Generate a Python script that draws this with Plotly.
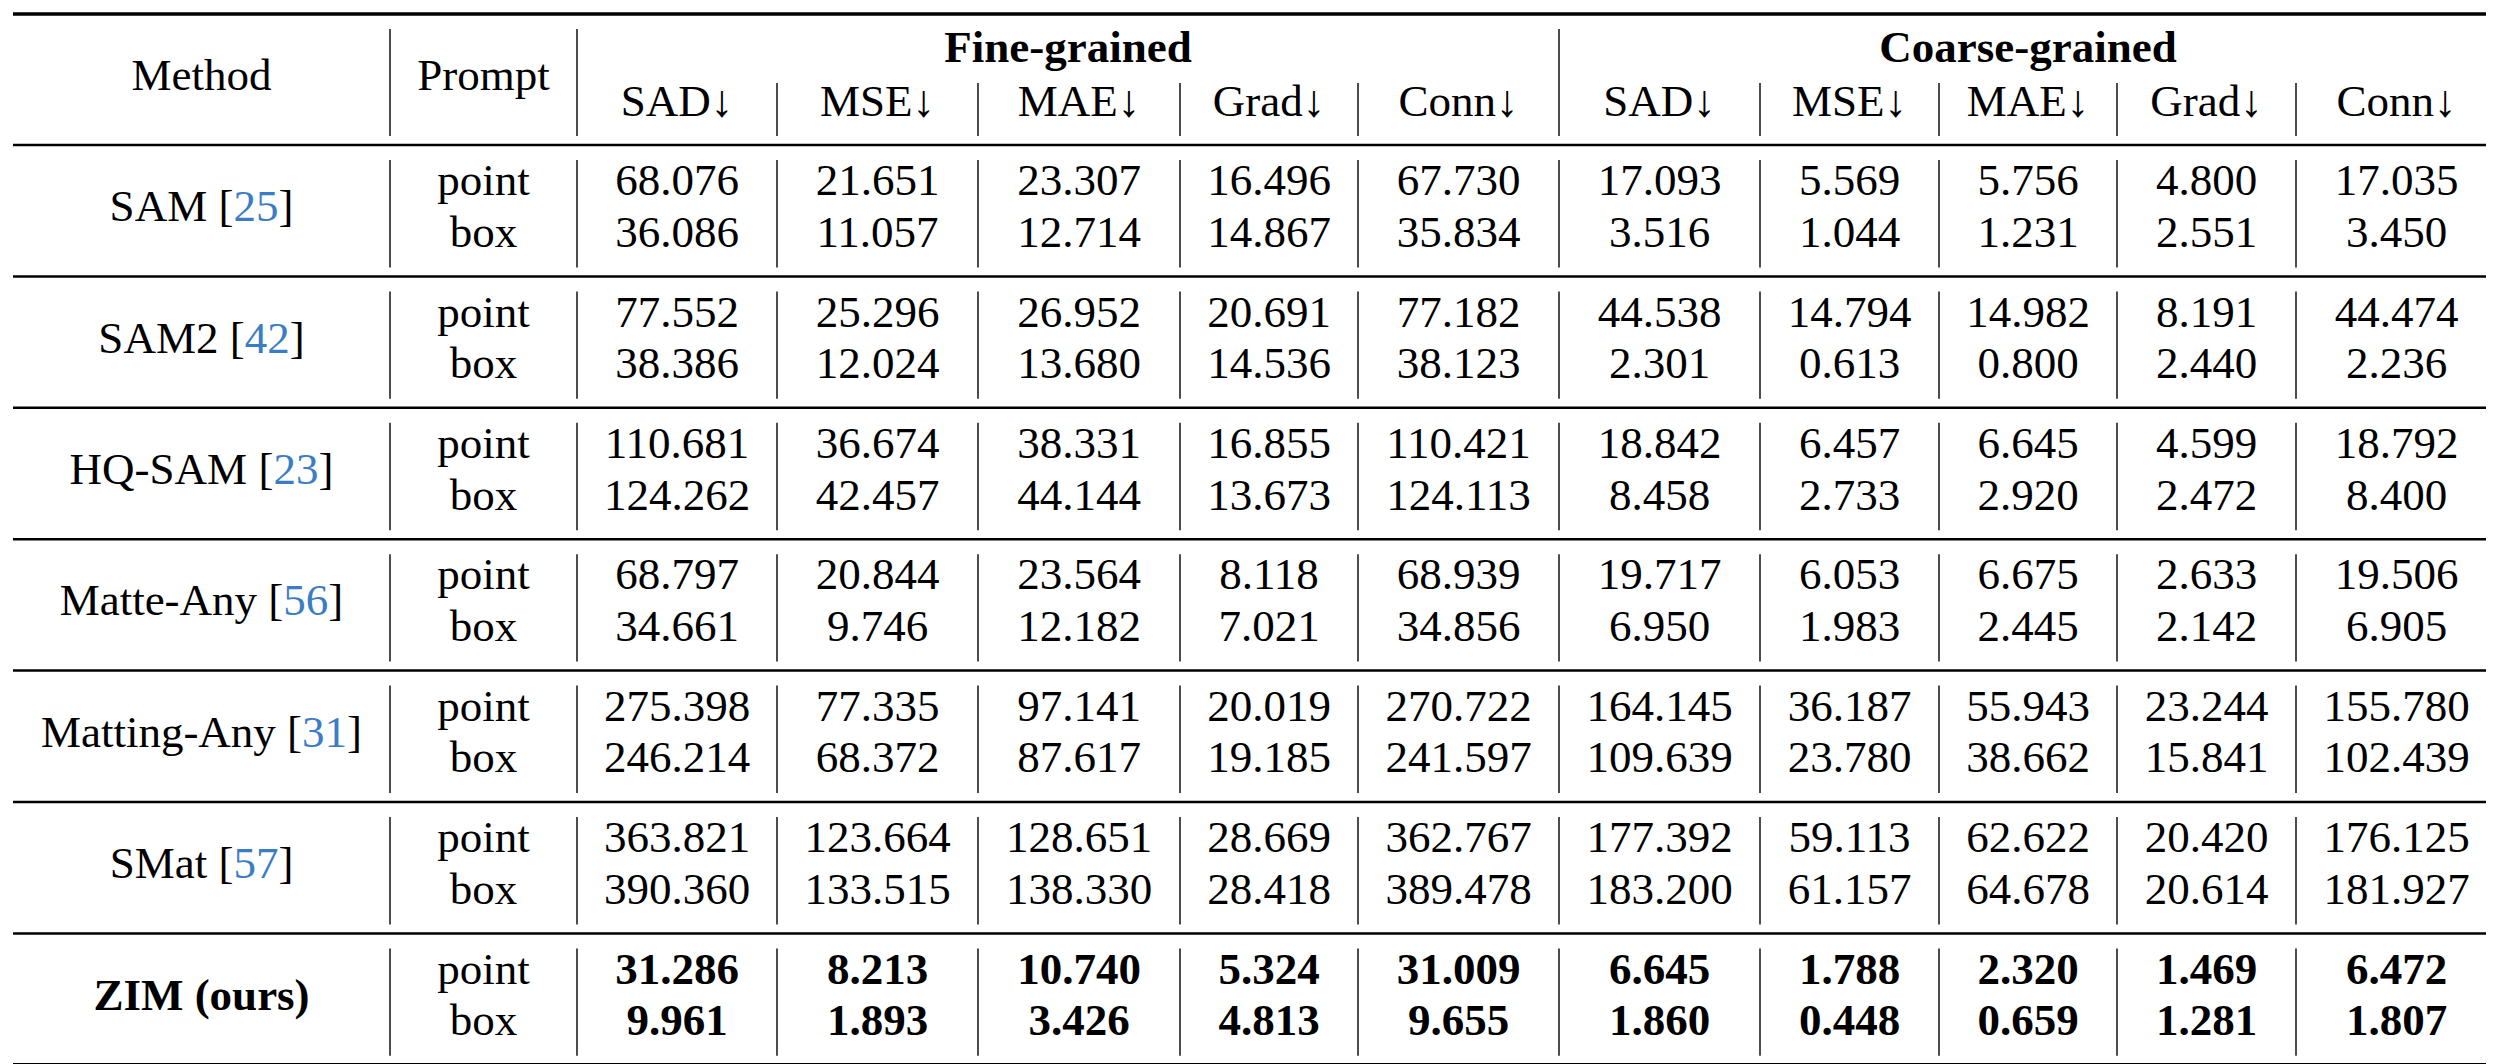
import plotly.graph_objects as go

methods = ["SAM", "SAM2", "HQ-SAM", "Matte-Any", "Matting-Any", "SMat", "ZIM (ours)"]
refs = ["25", "42", "23", "56", "31", "57", ""]
prompts = ["point", "box"]
metrics = ["SAD", "MSE", "MAE", "Grad", "Conn"]
groups = ["Fine-grained", "Coarse-grained"]

# one row per method, columns SAD MSE MAE Grad Conn
fine_point = [
    [68.076, 21.651, 23.307, 16.496, 67.730],
    [77.552, 25.296, 26.952, 20.691, 77.182],
    [110.681, 36.674, 38.331, 16.855, 110.421],
    [68.797, 20.844, 23.564, 8.118, 68.939],
    [275.398, 77.335, 97.141, 20.019, 270.722],
    [363.821, 123.664, 128.651, 28.669, 362.767],
    [31.286, 8.213, 10.740, 5.324, 31.009],
]
fine_box = [
    [36.086, 11.057, 12.714, 14.867, 35.834],
    [38.386, 12.024, 13.680, 14.536, 38.123],
    [124.262, 42.457, 44.144, 13.673, 124.113],
    [34.661, 9.746, 12.182, 7.021, 34.856],
    [246.214, 68.372, 87.617, 19.185, 241.597],
    [390.360, 133.515, 138.330, 28.418, 389.478],
    [9.961, 1.893, 3.426, 4.813, 9.655],
]
coarse_point = [
    [17.093, 5.569, 5.756, 4.800, 17.035],
    [44.538, 14.794, 14.982, 8.191, 44.474],
    [18.842, 6.457, 6.645, 4.599, 18.792],
    [19.717, 6.053, 6.675, 2.633, 19.506],
    [164.145, 36.187, 55.943, 23.244, 155.780],
    [177.392, 59.113, 62.622, 20.420, 176.125],
    [6.645, 1.788, 2.320, 1.469, 6.472],
]
coarse_box = [
    [3.516, 1.044, 1.231, 2.551, 3.450],
    [2.301, 0.613, 0.800, 2.440, 2.236],
    [8.458, 2.733, 2.920, 2.472, 8.400],
    [6.950, 1.983, 2.445, 2.142, 6.905],
    [109.639, 23.780, 38.662, 15.841, 102.439],
    [183.200, 61.157, 64.678, 20.614, 181.927],
    [1.860, 0.448, 0.659, 1.281, 1.807],
]
best_row = 6  # ours, set in bold

# ---- layout (pixel geometry of the table) ----
W, H = 2494, 1064
FONT = "Liberation Serif"
FS = 45
BLUE = "#3B7DC4"
x_left = 5
col_widths = [377, 187, 200, 201, 202, 178, 201, 201, 179, 178, 179, 201]
edges = [x_left]
for w in col_widths:
    edges.append(edges[-1] + w)
centers = [(a + b) / 2 for a, b in zip(edges[:-1], edges[1:])]

top = 6
header_h = 131
group_h = 131.4
rules = [top, top + header_h] + [top + header_h + group_h * (k + 1) for k in range(len(methods))]

cells = {"head": ([], [], []), "body": ([], [], [])}

def put(part, x, y, t):
    xs, ys, ts = cells[part]
    xs.append(x); ys.append(y); ts.append(t)

# header
put("head", centers[0], top + 65, "Method")
put("head", centers[1], top + 65, "Prompt")
for g, name in enumerate(groups):
    c0 = edges[2 + 5 * g]
    c1 = edges[2 + 5 * g + 5]
    put("head", (c0 + c1) / 2, top + 37, "<b>" + name + "</b>")
    for j, m in enumerate(metrics):
        put("head", centers[2 + 5 * g + j], top + 91, m + "↓")

# body
for i, m in enumerate(methods):
    y0 = rules[1 + i]
    if refs[i]:
        label = f"{m} [<span style='color:{BLUE}'>{refs[i]}</span>]"
    else:
        label = m
    if i == best_row:
        label = "<b>" + label + "</b>"
    put("body", centers[0], y0 + 65, label)
    for p, (prompt, fv, cv) in enumerate([("point", fine_point, coarse_point),
                                            ("box", fine_box, coarse_box)]):
        yy = y0 + 39 + p * 51.5
        put("body", centers[1], yy, prompt)
        vals = fv[i] + cv[i]
        for j, v in enumerate(vals):
            s = f"{v:.3f}"
            if i == best_row:
                s = "<b>" + s + "</b>"
            put("body", centers[2 + j], yy, s)

fig = go.Figure()
for part, (xs, ys, ts) in cells.items():
    fig.add_trace(go.Scatter(
        x=xs, y=ys, text=ts, mode="text", textposition="middle center",
        textfont=dict(family=FONT, size=FS, color="black"),
        hoverinfo="skip", name=part,
    ))

shapes = []
# horizontal rules
for k, y in enumerate(rules):
    lw = 3.5 if k in (0, len(rules) - 1) else 2.5
    shapes.append(dict(type="line", x0=edges[0], x1=edges[-1], y0=y, y1=y,
                       line=dict(color="black", width=lw)))

# vertical lines in header
for k in range(1, len(edges) - 1):
    major = k in (1, 2, 7)
    ya = rules[0] + (15 if major else 69)
    shapes.append(dict(type="line", x0=edges[k], x1=edges[k], y0=ya, y1=rules[1] - 9,
                       line=dict(color="black", width=1.4)))
# vertical lines in body
for i in range(len(methods)):
    for k in range(1, len(edges) - 1):
        shapes.append(dict(type="line", x0=edges[k], x1=edges[k],
                           y0=rules[1 + i] + 15, y1=rules[2 + i] - 9,
                           line=dict(color="black", width=1.4)))

fig.update_layout(
    width=W, height=H, margin=dict(l=0, r=0, t=0, b=0),
    paper_bgcolor="white", plot_bgcolor="white", showlegend=False,
    font=dict(family=FONT, size=FS, color="black"),
    shapes=shapes,
    xaxis=dict(range=[0, W], visible=False, fixedrange=True),
    yaxis=dict(range=[H, 0], visible=False, fixedrange=True),
)

fig.write_html("out.html")
